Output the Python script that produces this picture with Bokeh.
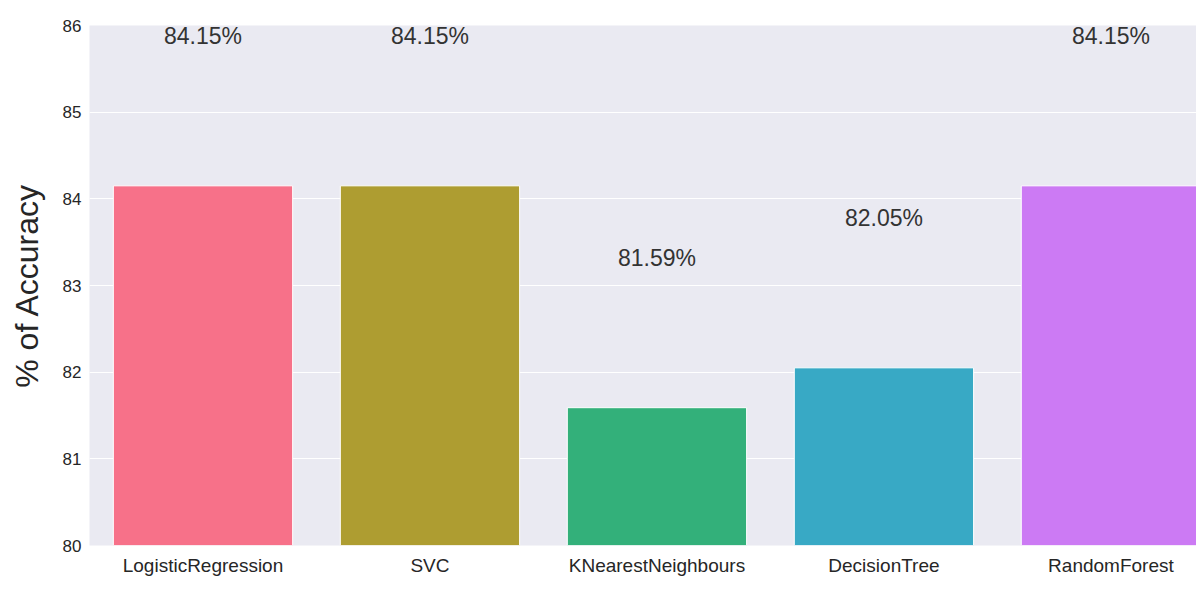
from bokeh.plotting import figure
from bokeh.models import ColumnDataSource, Range1d, FixedTicker, Label
from bokeh.embed import file_html
from bokeh.resources import INLINE

# ---- data ----
models = ["LogisticRegression", "SVC", "KNearestNeighbours", "DecisionTree", "RandomForest"]
accuracy = [84.15, 84.15, 81.59, 82.05, 84.15]
colors = ["#f77189", "#ae9d31", "#33b07a", "#38a9c5", "#cc7af4"]
y_ticks = [80, 81, 82, 83, 84, 85, 86]

LABEL_OFFSET = 1.73  # data units above bar top where the % text sits
FONT = "Liberation Sans"

idx = list(range(len(models)))
src = ColumnDataSource(dict(x=idx, acc=accuracy, color=colors))

p = figure(width=1196, height=591,
           x_range=Range1d(-0.5, 4.377), y_range=Range1d(80, 86),
           output_backend="svg", toolbar_location=None,
           min_border_top=25, min_border_left=89, min_border_right=0, min_border_bottom=46)

p.background_fill_color = "#eaeaf2"
p.border_fill_color = "white"
p.outline_line_color = None

p.vbar(x="x", top="acc", bottom=80, width=0.79, fill_color="color",
       line_color="white", line_width=1, source=src)

for i, acc in enumerate(accuracy):
    # value label above each bar
    p.add_layout(Label(x=i, y=acc + LABEL_OFFSET, text=f"{acc:.2f}%",
                       text_align="center", text_baseline="middle",
                       text_font=FONT, text_font_size="23px",
                       text_color="#333333"))

# x axis: category names centred under the bars
p.xaxis.ticker = FixedTicker(ticks=idx)
p.xaxis.major_label_overrides = {i: m for i, m in enumerate(models)}
p.xaxis.major_label_text_font = FONT
p.xaxis.major_label_text_font_size = "19px"
p.xaxis.major_label_text_color = "#262626"
p.xaxis.major_label_standoff = 9
p.xaxis.major_tick_out = 0
p.xaxis.major_tick_in = 0

# y axis
p.yaxis.ticker = FixedTicker(ticks=y_ticks)
p.yaxis.axis_label = "% of Accuracy"
p.yaxis.axis_label_text_font = FONT
p.yaxis.axis_label_text_font_size = "32px"
p.yaxis.axis_label_text_font_style = "normal"
p.yaxis.axis_label_text_color = "#262626"
p.yaxis.axis_label_standoff = 15
p.yaxis.major_label_text_font = FONT
p.yaxis.major_label_text_font_size = "17px"
p.yaxis.major_label_text_color = "#262626"
p.yaxis.major_label_standoff = 8
p.yaxis.major_tick_out = 0
p.yaxis.major_tick_in = 0

for ax in (p.xaxis, p.yaxis):
    ax.axis_line_color = None
    ax.major_tick_line_color = None
    ax.minor_tick_line_color = None

p.xgrid.grid_line_color = None
p.ygrid.grid_line_color = "white"
p.ygrid.grid_line_width = 1.2

open("out.html", "w").write(file_html(p, INLINE))
